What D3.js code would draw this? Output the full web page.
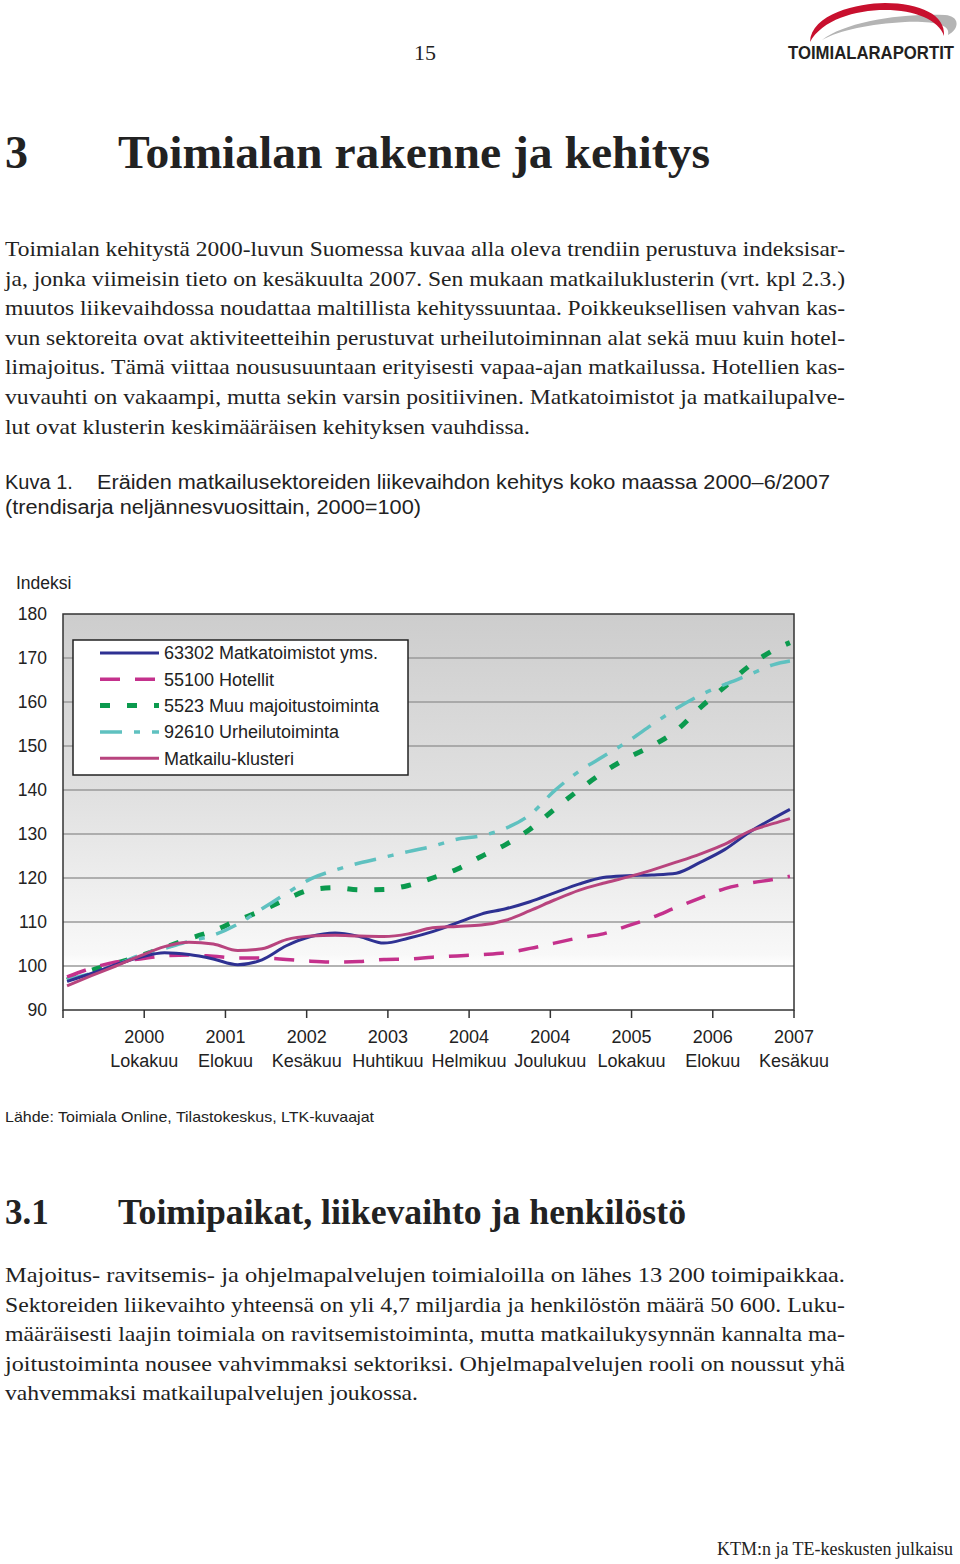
<!DOCTYPE html>
<html>
<head>
<meta charset="utf-8">
<script src="https://cdn.jsdelivr.net/npm/d3@7"></script>
<style>
  html, body { margin: 0; padding: 0; background: #fff; }
  svg { display: block; }
</style>
</head>
<body>
<div id="chart"></div>
<script>
// ---------- DATA ----------
const months = [0,3,6,9,12,15,18,21,24,27,30,33,36,39,42,45,48,51,54,57,60,63,66,69,72,75,78,81,84,87,89];
const matkatoimistot = [96.5,98.3,100.3,102,103,102.6,101.6,100.3,101.4,104.6,106.7,107.5,106.7,105.2,106.3,107.8,109.8,111.8,113,114.6,116.6,118.6,120.1,120.5,120.7,121.1,123.6,126.5,130.4,133.6,135.6];
const hotellit = [97.5,99.5,100.9,101.6,102.3,102.5,102.2,101.8,101.8,101.5,101.1,100.9,101,101.5,101.6,102,102.3,102.6,103,104,105.2,106.4,107.3,109.1,111,113.3,115.5,117.6,118.8,119.7,120.4];
const muuMajoitus = [96.8,99,100.6,102.3,104.2,106.2,108,110.4,112.6,115.2,117.3,117.8,117.3,117.4,118.3,120,122,124.9,127.6,131.1,135.6,140,144,147.3,150,153.5,158.8,163.5,168.2,171.8,173.5];
const urheilu = [97,98.3,100.2,102.5,104,105.6,107,109.5,113,116.5,119.8,121.8,123.4,124.7,126,127.2,128.8,129.6,131.3,134.4,139.8,144.2,147.6,151,154.8,158.5,161.6,164,166.2,168.5,169.3];
const klusteri = [95.5,97.8,100,102.3,104.4,105.4,105,103.5,103.9,106,106.8,107,106.8,106.7,107.3,108.7,109,109.3,110.4,112.6,115,117.2,118.8,120.2,121.8,123.6,125.5,127.7,130.6,132.4,133.5];

const seriesNames = ["63302 Matkatoimistot yms.","55100 Hotellit","5523 Muu majoitustoiminta","92610 Urheilutoiminta","Matkailu-klusteri"];
const yTicks = [90,100,110,120,130,140,150,160,170,180];
const tickYears = ["2000","2001","2002","2003","2004","2004","2005","2006","2007"];
const tickMonths = ["Lokakuu","Elokuu","Kesäkuu","Huhtikuu","Helmikuu","Joulukuu","Lokakuu","Elokuu","Kesäkuu"];

const para1 = [
  "Toimialan kehitystä 2000-luvun Suomessa kuvaa alla oleva trendiin perustuva indeksisar-",
  "ja, jonka viimeisin tieto on kesäkuulta 2007.  Sen mukaan matkailuklusterin (vrt. kpl 2.3.)",
  "muutos liikevaihdossa noudattaa maltillista kehityssuuntaa. Poikkeuksellisen vahvan kas-",
  "vun sektoreita ovat aktiviteetteihin perustuvat urheilutoiminnan alat sekä muu kuin hotel-",
  "limajoitus.  Tämä viittaa noususuuntaan erityisesti vapaa-ajan matkailussa.  Hotellien kas-",
  "vuvauhti on vakaampi, mutta sekin varsin positiivinen. Matkatoimistot ja matkailupalve-",
  "lut ovat klusterin keskimääräisen kehityksen vauhdissa."
];
const para2 = [
  "Majoitus- ravitsemis- ja ohjelmapalvelujen toimialoilla on lähes 13 200 toimipaikkaa.",
  "Sektoreiden liikevaihto yhteensä on yli 4,7 miljardia ja henkilöstön määrä 50 600.  Luku-",
  "määräisesti laajin toimiala on ravitsemistoiminta, mutta matkailukysynnän kannalta ma-",
  "joitustoiminta nousee vahvimmaksi sektoriksi.  Ohjelmapalvelujen rooli on noussut yhä",
  "vahvemmaksi matkailupalvelujen joukossa."
];

// ---------- PAGE ----------
const W = 960, H = 1564;
const svg = d3.select("#chart").append("svg").attr("width", W).attr("height", H)
  .style("background", "#fff");

const serif = "'Liberation Serif','Times New Roman',serif";
const sans = "'Liberation Sans',Arial,sans-serif";

// page number
svg.append("text").attr("x", 425).attr("y", 60).attr("text-anchor", "middle")
  .style("font-family", serif).style("font-size", "22px").attr("fill", "#222").text("15");

// logo
svg.append("path")
  .attr("d", "M822,40 C845,22 900,13 945,15 C960,16 960,29 948,35 C951,25 935,21 905,22 C870,24 840,30 822,40 Z")
  .attr("fill", "#b4b4b4");
svg.append("path")
  .attr("d", "M810,42 C811,14 858,3 885,3 C920,3 946,15 944,36 C939,20 915,10 885,10 C855,10 822,20 810,42 Z")
  .attr("fill", "#c8102e");
svg.append("text").attr("transform", "translate(788,59) scale(1,1.2)")
  .attr("textLength", 166).attr("lengthAdjust", "spacingAndGlyphs")
  .style("font-family", sans).style("font-weight", "bold").style("font-size", "15.5px")
  .attr("fill", "#231f20").text("TOIMIALARAPORTIT");

// heading
svg.append("text").attr("x", 5).attr("y", 168)
  .style("font-family", serif).style("font-weight", "bold").style("font-size", "46px")
  .attr("fill", "#222").text("3");
svg.append("text").attr("x", 118).attr("y", 168)
  .attr("textLength", 592).attr("lengthAdjust", "spacingAndGlyphs")
  .style("font-family", serif).style("font-weight", "bold").style("font-size", "46px")
  .attr("fill", "#222").text("Toimialan rakenne ja kehitys");

function paragraph(lines, y0, lastWidth) {
  lines.forEach((t, i) => {
    svg.append("text").attr("x", 5).attr("y", y0 + i * 29.6)
      .attr("textLength", i === lines.length - 1 ? lastWidth : 840)
      .attr("lengthAdjust", "spacingAndGlyphs")
      .style("font-family", serif).style("font-size", "21.5px")
      .attr("fill", "#222").text(t);
  });
}
paragraph(para1, 256, 525);

// caption
svg.append("text").attr("x", 5).attr("y", 489)
  .style("font-family", sans).style("font-size", "20px").attr("fill", "#222").text("Kuva 1.");
svg.append("text").attr("x", 97).attr("y", 489)
  .attr("textLength", 733).attr("lengthAdjust", "spacingAndGlyphs")
  .style("font-family", sans).style("font-size", "20px").attr("fill", "#222")
  .text("Eräiden matkailusektoreiden liikevaihdon kehitys koko maassa 2000–6/2007");
svg.append("text").attr("x", 5).attr("y", 514)
  .attr("textLength", 416).attr("lengthAdjust", "spacingAndGlyphs")
  .style("font-family", sans).style("font-size", "20px").attr("fill", "#222")
  .text("(trendisarja neljännesvuosittain, 2000=100)");

// ---------- CHART ----------
const plot = { left: 63, right: 794, top: 614, bottom: 1010 };
const x = d3.scaleLinear().domain([-0.5, 89.5]).range([plot.left, plot.right]);
const y = d3.scaleLinear().domain([90, 180]).range([plot.bottom, plot.top]);

const defs = svg.append("defs");
const grad = defs.append("linearGradient").attr("id", "bg").attr("x1", 0).attr("y1", 0).attr("x2", 0).attr("y2", 1);
grad.append("stop").attr("offset", "0%").attr("stop-color", "#cdcdcd");
grad.append("stop").attr("offset", "45%").attr("stop-color", "#e0e0e0");
grad.append("stop").attr("offset", "86%").attr("stop-color", "#f8f8f8");
grad.append("stop").attr("offset", "89%").attr("stop-color", "#ffffff");
grad.append("stop").attr("offset", "100%").attr("stop-color", "#ffffff");

svg.append("rect").attr("x", plot.left).attr("y", plot.top)
  .attr("width", plot.right - plot.left).attr("height", plot.bottom - plot.top)
  .attr("fill", "url(#bg)");

// gridlines
svg.append("g").selectAll("line").data(yTicks.filter(v => v > 90 && v < 180)).join("line")
  .attr("x1", plot.left).attr("x2", plot.right)
  .attr("y1", d => y(d)).attr("y2", d => y(d))
  .attr("stroke", "#9a9a9a").attr("stroke-width", 1.5);

// y axis labels
svg.append("g").selectAll("text").data(yTicks).join("text")
  .attr("x", 47).attr("y", d => y(d)).attr("dy", "0.36em").attr("text-anchor", "end")
  .style("font-family", sans).style("font-size", "17.5px").attr("fill", "#222")
  .text(d => d);
svg.append("text").attr("x", 16).attr("y", 589)
  .style("font-family", sans).style("font-size", "17.5px").attr("fill", "#222").text("Indeksi");

// x axis ticks and labels
const tickPos = d3.range(0, 10).map(k => k * 10 - 0.5);
svg.append("g").selectAll("line").data(tickPos).join("line")
  .attr("x1", d => x(d)).attr("x2", d => x(d))
  .attr("y1", plot.bottom).attr("y2", plot.bottom + 8)
  .attr("stroke", "#333").attr("stroke-width", 1.5);
const lab = svg.append("g").selectAll("g").data(tickPos.slice(1)).join("g");
lab.append("text").attr("x", d => x(d)).attr("y", 1043).attr("text-anchor", "middle")
  .style("font-family", sans).style("font-size", "18px").attr("fill", "#222")
  .text((d, i) => tickYears[i]);
lab.append("text").attr("x", d => x(d)).attr("y", 1067).attr("text-anchor", "middle")
  .style("font-family", sans).style("font-size", "18px").attr("fill", "#222")
  .text((d, i) => tickMonths[i]);

// lines
const styles = [
  { key: "green", values: muuMajoitus, color: "#0b9a4e", width: 5, dash: "10,17" },
  { key: "cyan", values: urheilu, color: "#5fc1c0", width: 3.5, dash: "22,12,6,12" },
  { key: "hotel", values: hotellit, color: "#c4318c", width: 3.5, dash: "20,15" },
  { key: "blue", values: matkatoimistot, color: "#2e3192", width: 3, dash: null },
  { key: "clu", values: klusteri, color: "#b8447e", width: 3, dash: null }
];
const line = d3.line().x(d => x(d[0])).y(d => y(d[1])).curve(d3.curveMonotoneX);
styles.forEach(s => {
  svg.append("path")
    .datum(months.map((m, i) => [m, s.values[i]]))
    .attr("d", line).attr("fill", "none")
    .attr("stroke", s.color).attr("stroke-width", s.width)
    .attr("stroke-dasharray", s.dash).attr("stroke-linejoin", "round");
});

// plot border
svg.append("rect").attr("x", plot.left).attr("y", plot.top)
  .attr("width", plot.right - plot.left).attr("height", plot.bottom - plot.top)
  .attr("fill", "none").attr("stroke", "#333").attr("stroke-width", 1.5);

// legend
const lg = { x: 73, y: 640, w: 335, h: 135 };
svg.append("rect").attr("x", lg.x).attr("y", lg.y).attr("width", lg.w).attr("height", lg.h)
  .attr("fill", "#fff").attr("stroke", "#222").attr("stroke-width", 1.5);
const legendOrder = [
  { name: seriesNames[0], s: styles[3] },
  { name: seriesNames[1], s: styles[2] },
  { name: seriesNames[2], s: styles[0] },
  { name: seriesNames[3], s: styles[1] },
  { name: seriesNames[4], s: styles[4] }
];
legendOrder.forEach((d, i) => {
  const yy = 653 + i * 26.3;
  svg.append("line").attr("x1", 100).attr("x2", 159).attr("y1", yy).attr("y2", yy)
    .attr("stroke", d.s.color).attr("stroke-width", d.s.width)
    .attr("stroke-dasharray", d.s.dash);
  svg.append("text").attr("x", 164).attr("y", yy).attr("dy", "0.36em")
    .style("font-family", sans).style("font-size", "18px").attr("fill", "#222")
    .text(d.name);
});

// source
svg.append("text").attr("x", 5).attr("y", 1122)
  .attr("textLength", 369).attr("lengthAdjust", "spacingAndGlyphs")
  .style("font-family", sans).style("font-size", "15px").attr("fill", "#222")
  .text("Lähde: Toimiala Online, Tilastokeskus, LTK-kuvaajat");

// section heading 3.1
svg.append("text").attr("x", 5).attr("y", 1224)
  .style("font-family", serif).style("font-weight", "bold").style("font-size", "35px")
  .attr("fill", "#222").text("3.1");
svg.append("text").attr("x", 118).attr("y", 1224)
  .attr("textLength", 568).attr("lengthAdjust", "spacingAndGlyphs")
  .style("font-family", serif).style("font-weight", "bold").style("font-size", "35px")
  .attr("fill", "#222").text("Toimipaikat, liikevaihto ja henkilöstö");

paragraph(para2, 1282, 413);

// footer
svg.append("text").attr("x", 717).attr("y", 1555)
  .attr("textLength", 236).attr("lengthAdjust", "spacingAndGlyphs")
  .style("font-family", serif).style("font-size", "18px").attr("fill", "#222")
  .text("KTM:n ja TE-keskusten julkaisu");
</script>
</body>
</html>
